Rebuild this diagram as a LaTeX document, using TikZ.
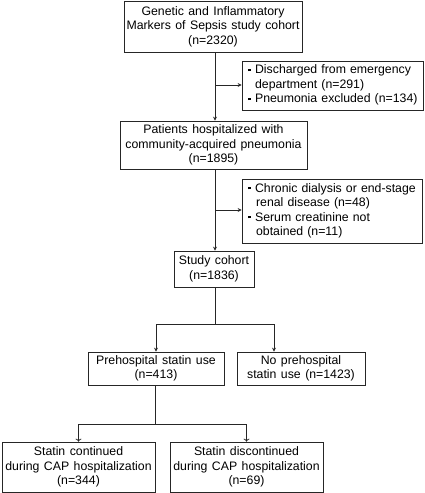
\documentclass[tikz,border=0pt]{standalone}
\usepackage{fontspec}
\setmainfont[WordSpace=1.3]{Liberation Sans}
\usetikzlibrary{arrows.meta}
\newcommand{\sqb}{\raisebox{2.7pt}{\rule{2.6pt}{2.6pt}}}
\begin{document}
\begin{tikzpicture}[x=1pt,y=-1pt,
 box/.style={draw=black!85, line width=0.7pt, inner sep=0pt, align=center, font=\fontsize{12.3}{14.5}\selectfont},
 lbox/.style={box, inner xsep=6pt, align=left},
 ln/.style={draw=black!85, line width=0.7pt},
 arr/.style={ln, -{Stealth[length=4pt,width=4pt]}},
 arrb/.style={ln, -{To[length=3pt,width=6pt]}}]
\useasboundingbox (0,0) rectangle (425,493);
\fill[white] (0,0) rectangle (425,493);

\node[box, minimum width=178pt, minimum height=51pt] (b1) at (213,26.5) {Genetic and Inflammatory\\Markers of Sepsis study cohort\\(n=2320)};
\node[lbox, text width=169pt, minimum height=49pt] (e1) at (332.5,85.5) {\begin{tabular}{@{}l@{\hspace{4.5pt}}l@{}}\sqb & Discharged from emergency\\ & department (n=291)\\ \sqb & Pneumonia excluded (n=134)\end{tabular}};
\node[box, minimum width=187pt, minimum height=48pt] (b2) at (213.5,145) {Patients hospitalized with\\community-acquired pneumonia\\(n=1895)};
\node[lbox, text width=168pt, minimum height=64pt] (e2) at (332,211) {\begin{tabular}{@{}l@{\hspace{4.5pt}}l@{}}\sqb & Chronic dialysis or end-stage\\ & \hspace{1pt}renal disease (n=48)\\ \sqb & Serum creatinine not\\ & \hspace{1pt}obtained (n=11)\end{tabular}};
\node[box, minimum width=80pt, minimum height=36pt] (sc) at (214,269) {Study cohort\\(n=1836)};
\node[box, minimum width=136pt, minimum height=33pt] (pre) at (156,368.5) {Prehospital statin use\\(n=413)};
\node[box, minimum width=128pt, minimum height=33pt] (nopre) at (301,368.5) {No prehospital\\statin use (n=1423)};
\node[box, minimum width=153pt, minimum height=50pt] (cont) at (78.5,467) {Statin continued\\during CAP hospitalization\\(n=344)};
\node[box, minimum width=153pt, minimum height=50pt] (disc) at (246.5,467) {Statin discontinued\\during CAP hospitalization\\(n=69)};

\coordinate (tr) at (215,0);
\coordinate (j1) at (215,85);
\coordinate (j2) at (215,210);
\coordinate (s1) at (215,324);
\coordinate (np) at (274,324);
\coordinate (s2) at (155,424);

\draw[arr] (b1.south -| tr) -- (b2.north -| tr);
\draw[arr] (j1) -- (e1.west |- j1);
\draw[arr] (b2.south -| tr) -- (sc.north -| tr);
\draw[arr] (j2) -- (e2.west |- j2);
\draw[ln] (sc.south -| tr) -- (s1);
\draw[arr] (pre.north |- s1) -- (pre.north);
\draw[arr] (pre.north |- s1) -- (np) -- (np |- nopre.north);
\draw[ln] (pre.south -| s2) -- (s2);
\draw[arrb] (s2) -- (cont.north |- s2) -- (cont.north);
\draw[arrb] (s2) -- (disc.north |- s2) -- (disc.north);
\end{tikzpicture}
\end{document}
